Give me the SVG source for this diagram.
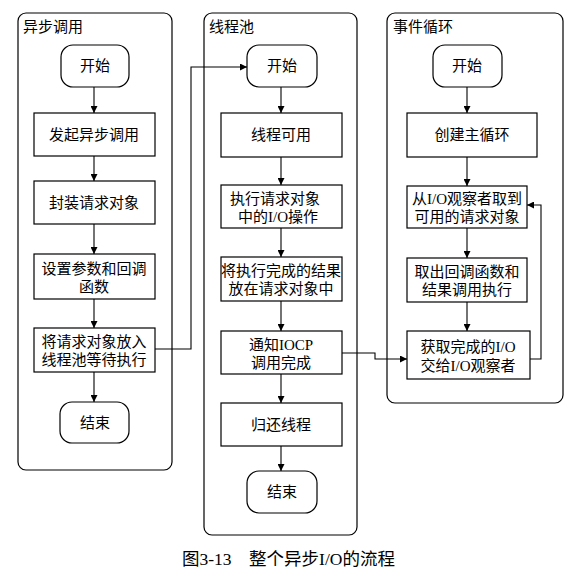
<svg xmlns="http://www.w3.org/2000/svg" width="581" height="572" viewBox="0 0 581 572">
<style>
.lane{fill:none;stroke:#000;stroke-width:1.2}
.box{fill:#fff;stroke:#000;stroke-width:1.2}
.t{font-family:"Liberation Serif","Noto Sans CJK SC",serif;font-size:15px;fill:#000;text-anchor:middle}
.ttl{font-family:"Liberation Serif","Noto Sans CJK SC",serif;font-size:15px;fill:#000}
.c{fill:none;stroke:#000;stroke-width:1.1}
</style>
<defs>
<marker id="ah" viewBox="0 0 10 10" refX="10" refY="5" markerWidth="9" markerHeight="7" markerUnits="userSpaceOnUse" orient="auto">
<path d="M0,0 L10,5 L0,10 z" fill="#000"/>
</marker>
</defs>
<rect width="581" height="572" fill="#fff"/>

<g id="lane-async">
<rect class="lane" x="18" y="13" width="154" height="457" rx="8"/>
<text class="ttl" x="23" y="32">异步调用</text>
</g>
<g id="lane-pool">
<rect class="lane" x="204" y="13" width="153" height="522" rx="8"/>
<text class="ttl" x="209" y="32">线程池</text>
</g>
<g id="lane-loop">
<rect class="lane" x="387" y="13" width="176" height="390" rx="8"/>
<text class="ttl" x="393" y="32">事件循环</text>
</g>

<g id="connectors">
<line class="c" x1="94" y1="87" x2="94" y2="113" marker-end="url(#ah)"/>
<line class="c" x1="94" y1="156" x2="94" y2="181" marker-end="url(#ah)"/>
<line class="c" x1="94" y1="224" x2="94" y2="254" marker-end="url(#ah)"/>
<line class="c" x1="94" y1="299" x2="94" y2="328" marker-end="url(#ah)"/>
<line class="c" x1="94" y1="372" x2="94" y2="402" marker-end="url(#ah)"/>
<polyline class="c" points="155,349 191,349 191,67 247,67" marker-end="url(#ah)"/>
<line class="c" x1="281" y1="87" x2="281" y2="113" marker-end="url(#ah)"/>
<line class="c" x1="281" y1="157" x2="281" y2="185" marker-end="url(#ah)"/>
<line class="c" x1="281" y1="228" x2="281" y2="257" marker-end="url(#ah)"/>
<line class="c" x1="281" y1="301" x2="281" y2="331" marker-end="url(#ah)"/>
<line class="c" x1="281" y1="374" x2="281" y2="403" marker-end="url(#ah)"/>
<line class="c" x1="281" y1="446" x2="281" y2="471" marker-end="url(#ah)"/>
<polyline class="c" points="342,353 375,353 375,359 407,359" marker-end="url(#ah)"/>
<line class="c" x1="467" y1="87" x2="467" y2="113" marker-end="url(#ah)"/>
<line class="c" x1="467" y1="157" x2="467" y2="186" marker-end="url(#ah)"/>
<line class="c" x1="467" y1="228" x2="467" y2="258" marker-end="url(#ah)"/>
<line class="c" x1="467" y1="302" x2="467" y2="331" marker-end="url(#ah)"/>
<polyline class="c" points="530,359 541,359 541,205 527,205" marker-end="url(#ah)"/>
</g>

<g id="a-start"><rect class="box" x="61" y="45" width="68" height="42" rx="12"/><text class="t" x="95" y="71">开始</text></g>
<g id="a-call"><rect class="box" x="34" y="113" width="121" height="43"/><text class="t" x="94" y="140">发起异步调用</text></g>
<g id="a-wrap"><rect class="box" x="34" y="181" width="121" height="43"/><text class="t" x="94" y="208">封装请求对象</text></g>
<g id="a-param"><rect class="box" x="34" y="254" width="121" height="45"/><text class="t" x="94" y="274">设置参数和回调</text><text class="t" x="94" y="292">函数</text></g>
<g id="a-put"><rect class="box" x="34" y="328" width="121" height="44"/><text class="t" x="94" y="347">将请求对象放入</text><text class="t" x="94" y="365">线程池等待执行</text></g>
<g id="a-end"><rect class="box" x="60" y="402" width="69" height="41" rx="12"/><text class="t" x="95" y="428">结束</text></g>

<g id="p-start"><rect class="box" x="247" y="45" width="70" height="42" rx="12"/><text class="t" x="282" y="71">开始</text></g>
<g id="p-avail"><rect class="box" x="221" y="113" width="121" height="44"/><text class="t" x="281" y="140">线程可用</text></g>
<g id="p-exec"><rect class="box" x="221" y="185" width="121" height="43"/><text class="t" x="275" y="204">执行请求对象</text><text class="t" x="278" y="222">中的I/O操作</text></g>
<g id="p-result"><rect class="box" x="221" y="257" width="121" height="44"/><text class="t" x="281" y="276">将执行完成的结果</text><text class="t" x="281" y="294">放在请求对象中</text></g>
<g id="p-notify"><rect class="box" x="221" y="331" width="121" height="43"/><text class="t" x="281" y="350">通知IOCP</text><text class="t" x="281" y="368">调用完成</text></g>
<g id="p-return"><rect class="box" x="221" y="403" width="121" height="43"/><text class="t" x="281" y="430">归还线程</text></g>
<g id="p-end"><rect class="box" x="247" y="471" width="70" height="42" rx="12"/><text class="t" x="282" y="497">结束</text></g>

<g id="l-start"><rect class="box" x="433" y="45" width="69" height="42" rx="12"/><text class="t" x="467" y="71">开始</text></g>
<g id="l-create"><rect class="box" x="407" y="113" width="130" height="44"/><text class="t" x="472" y="140">创建主循环</text></g>
<g id="l-fetch"><rect class="box" x="407" y="186" width="120" height="42"/><text class="t" x="467" y="204">从I/O观察者取到</text><text class="t" x="467" y="222">可用的请求对象</text></g>
<g id="l-exec"><rect class="box" x="407" y="258" width="120" height="44"/><text class="t" x="467" y="277">取出回调函数和</text><text class="t" x="467" y="295">结果调用执行</text></g>
<g id="l-give"><rect class="box" x="407" y="331" width="123" height="48"/><text class="t" x="468" y="352">获取完成的I/O</text><text class="t" x="468" y="371">交给I/O观察者</text></g>

<text class="ttl" x="182" y="565" style="font-size:17.5px">图3-13　整个异步I/O的流程</text>
</svg>
